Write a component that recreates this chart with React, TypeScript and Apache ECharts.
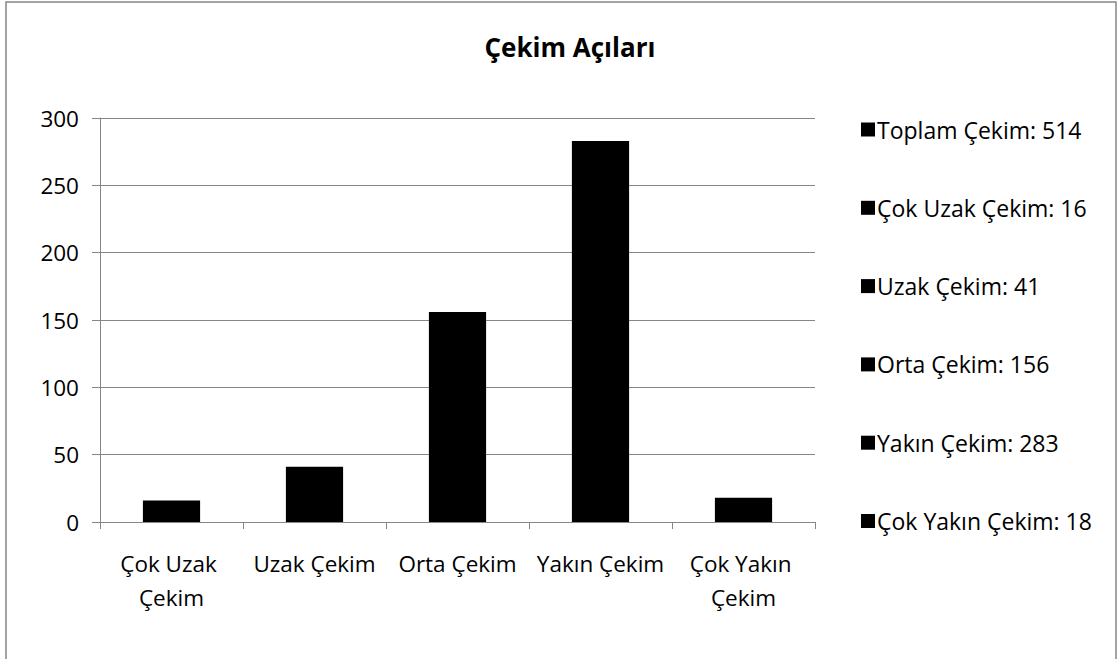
import React, { useEffect, useRef } from "react";
import * as echarts from "echarts";

const title = "Çekim Açıları";
const categories = ["Çok Uzak Çekim", "Uzak Çekim", "Orta Çekim", "Yakın Çekim", "Çok Yakın Çekim"];
const values = [16, 41, 156, 283, 18];
const totalName = "Toplam Çekim";
const yTicks = { min: 0, max: 300, interval: 50 };

const FONT = "'Open Sans', Lato, sans-serif";
const GRAY = "#868686";

export default function App() {
  const ref = useRef<HTMLDivElement>(null);
  useEffect(() => {
    if (!ref.current) return;
    const chart = echarts.init(ref.current, null, { renderer: "svg" });
    const total = values.reduce((a, b) => a + b, 0);
    const legendValues: Record<string, number> = { [totalName]: total };
    categories.forEach((c, i) => (legendValues[c] = values[i]));

    const series: any[] = [
      {
        name: totalName,
        type: "bar",
        stack: "all",
        barWidth: "40%",
        itemStyle: { color: "#000" },
        data: categories.map(() => null),
      },
      ...categories.map((c, i) => ({
        name: c,
        type: "bar",
        stack: "all",
        barWidth: "40%",
        itemStyle: { color: "#000" },
        data: categories.map((_, j) => (j === i ? values[i] : null)),
      })),
    ];

    chart.setOption({
      animation: false,
      textStyle: { fontFamily: FONT },
      title: {
        text: title,
        left: 565,
        textAlign: "center",
        top: 29,
        textStyle: { fontFamily: FONT, fontSize: 26, fontWeight: "bold", color: "#000" },
      },
      graphic: [
        {
          type: "rect",
          shape: { x: 6, y: 2, width: 1110, height: 700 },
          style: { fill: "none", stroke: GRAY, lineWidth: 1.5 },
          silent: true,
        },
      ],
      legend: {
        orient: "vertical",
        left: 856,
        top: 113,
        icon: "rect",
        itemWidth: 14,
        itemHeight: 14,
        itemGap: 55.3,
        selectedMode: false,
        data: [totalName, ...categories],
        formatter: (name: string) => `${name}: ${legendValues[name]}`,
        textStyle: { fontFamily: FONT, fontSize: 23, color: "#000", lineHeight: 22, padding: [0, 0, 0, -3] },
      },
      grid: { left: 100, top: 118, right: 304, bottom: 137 },
      xAxis: {
        type: "category",
        data: categories,
        boundaryGap: true,
        axisLine: { lineStyle: { color: GRAY, width: 1 } },
        axisTick: { show: true, length: 7, interval: 0, lineStyle: { color: GRAY } },
        axisLabel: {
          interval: 0,
          margin: 24,
          color: "#000",
          fontFamily: FONT,
          fontSize: 22.5,
          lineHeight: 34,
          width: 155,
          overflow: "break",
        },
      },
      yAxis: {
        type: "value",
        min: yTicks.min,
        max: yTicks.max,
        interval: yTicks.interval,
        axisLine: { show: true, lineStyle: { color: GRAY, width: 1 } },
        axisTick: { show: true, length: 8, lineStyle: { color: GRAY } },
        splitLine: { lineStyle: { color: GRAY, width: 1 } },
        axisLabel: { color: "#000", fontFamily: FONT, fontSize: 22.5, margin: 21 },
      },
      series,
    });
    return () => chart.dispose();
  }, []);
  return (
    <div
      ref={ref}
      style={{ position: "fixed", left: 0, top: 0, width: 1119, height: 659, background: "#fff" }}
    />
  );
}
